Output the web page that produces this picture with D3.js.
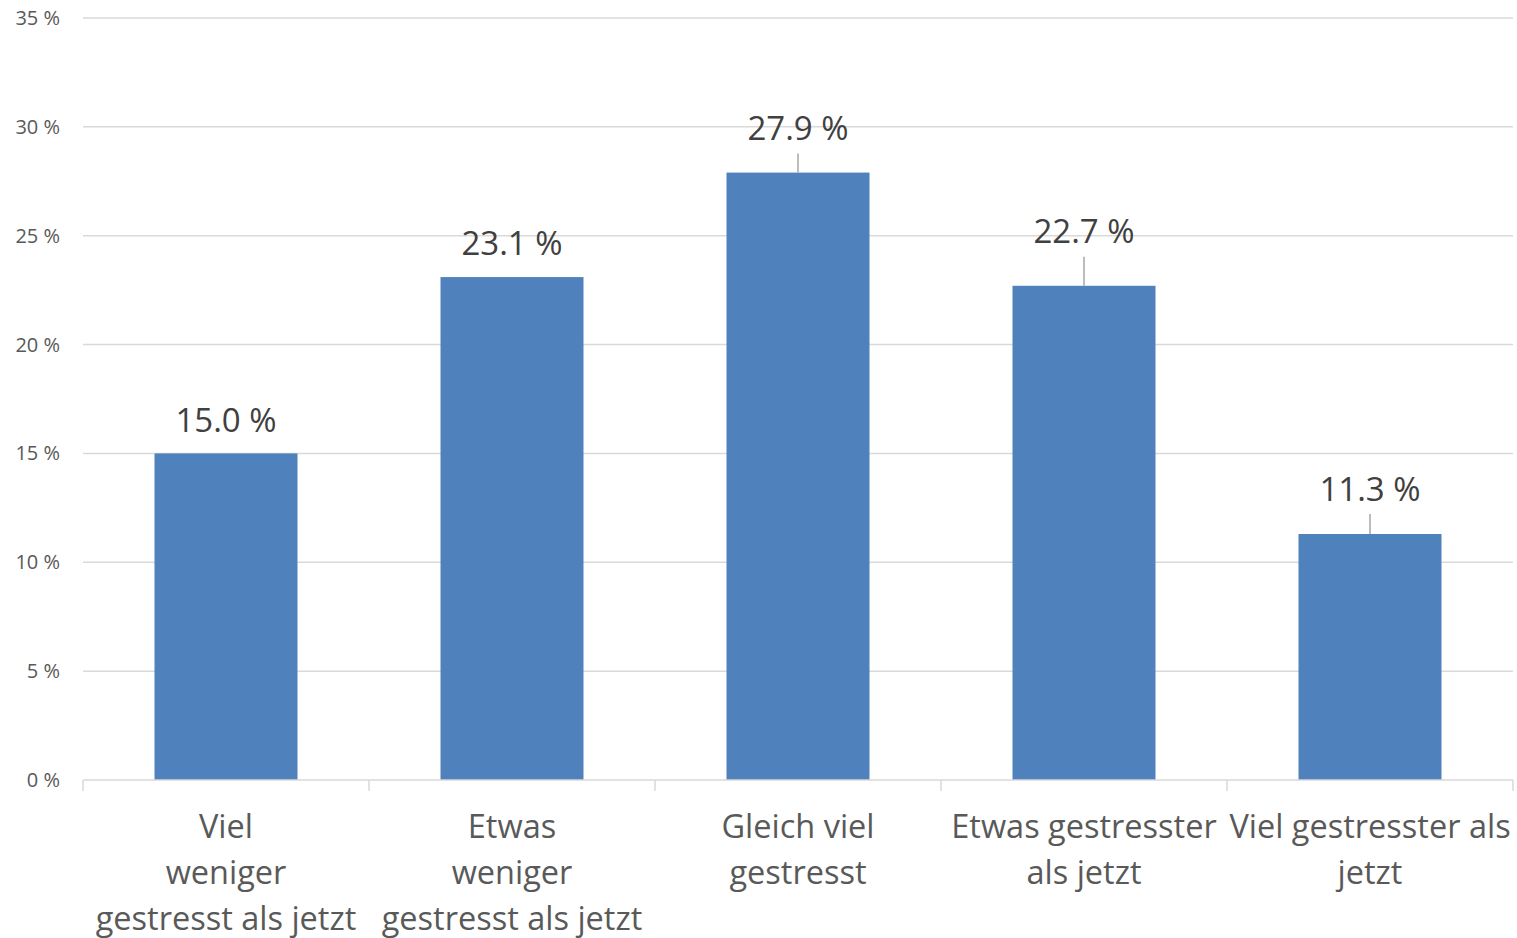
<!DOCTYPE html>
<html>
<head>
<meta charset="utf-8">
<script src="https://cdn.jsdelivr.net/npm/d3@7"></script>
<style>
  body { margin: 0; background: #fff; }
  svg { font-family: "Open Sans", "Noto Sans", sans-serif; }
</style>
</head>
<body>
<div id="chart"></div>
<script>
var width = 1517,
  height = 938;

// data
var categories = [
  "Viel weniger gestresst als jetzt",
  "Etwas weniger gestresst als jetzt",
  "Gleich viel gestresst",
  "Etwas gestresster als jetzt",
  "Viel gestresster als jetzt"
];
var categoryLines = [
  ["Viel", "weniger", "gestresst als jetzt"],
  ["Etwas", "weniger", "gestresst als jetzt"],
  ["Gleich viel", "gestresst"],
  ["Etwas gestresster", "als jetzt"],
  ["Viel gestresster als", "jetzt"]
];
var values = [15.0, 23.1, 27.9, 22.7, 11.3];
var yTicks = [0, 5, 10, 15, 20, 25, 30, 35];

// label distance above bar top (px), leader line drawn when far away
var labelGap = [33, 34, 44, 54, 45];

var margin = {top: 18, right: 4, bottom: 158, left: 83};

var svg = d3.select("#chart").append("svg")
  .attr("width", width)
  .attr("height", height);

var x = d3.scaleBand()
  .domain(categories)
  .range([margin.left, width - margin.right])
  .paddingInner(0.5)
  .paddingOuter(0.25);

var y = d3.scaleLinear()
  .domain([0, 35])
  .range([height - margin.bottom, margin.top]);

// gridlines
svg.append("g")
  .selectAll("line")
  .data(yTicks.filter(function(d) { return d > 0; }))
  .enter().append("line")
  .attr("x1", margin.left)
  .attr("x2", width - margin.right)
  .attr("y1", function(d) { return y(d); })
  .attr("y2", function(d) { return y(d); })
  .attr("stroke", "#d9d9d9")
  .attr("stroke-width", 1.5);

// y tick labels
svg.append("g")
  .selectAll("text")
  .data(yTicks)
  .enter().append("text")
  .attr("x", 60)
  .attr("y", function(d) { return y(d); })
  .attr("dy", "0.35em")
  .attr("text-anchor", "end")
  .attr("fill", "#595959")
  .style("font-size", "20px")
  .text(function(d) { return d + " %"; });

// bars
svg.append("g")
  .selectAll("rect")
  .data(values)
  .enter().append("rect")
  .attr("x", function(d, i) { return x(categories[i]); })
  .attr("y", function(d) { return y(d); })
  .attr("width", x.bandwidth())
  .attr("height", function(d) { return y(0) - y(d); })
  .attr("fill", "#4f81bd");

// x axis line and category ticks
var bottom = y(0);
svg.append("line")
  .attr("x1", margin.left)
  .attr("x2", width - margin.right)
  .attr("y1", bottom)
  .attr("y2", bottom)
  .attr("stroke", "#d9d9d9")
  .attr("stroke-width", 1.5);

var tickXs = categories.map(function(c) { return x(c) - x.bandwidth() / 2; });
tickXs.push(width - margin.right);
svg.append("g")
  .selectAll("line")
  .data(tickXs)
  .enter().append("line")
  .attr("x1", function(d) { return d; })
  .attr("x2", function(d) { return d; })
  .attr("y1", bottom)
  .attr("y2", bottom + 11)
  .attr("stroke", "#d9d9d9")
  .attr("stroke-width", 1.5);

// category labels
var catLabels = svg.append("g")
  .selectAll("text")
  .data(categories)
  .enter().append("text")
  .attr("text-anchor", "middle")
  .attr("fill", "#595959")
  .style("font-size", "32.5px")
  .attr("transform", function(d) {
    return "translate(" + (x(d) + x.bandwidth() / 2) + "," + (bottom + 58) + ")";
  });
catLabels.selectAll("tspan")
  .data(function(d, i) { return categoryLines[i]; })
  .enter().append("tspan")
  .attr("x", 0)
  .attr("dy", function(d, i) { return i === 0 ? 0 : 46; })
  .text(function(d) { return d; });

// data labels with leader lines
var labels = svg.append("g");
values.forEach(function(v, i) {
  var cx = x(categories[i]) + x.bandwidth() / 2;
  var top = y(v);
  var ly = top - labelGap[i];
  if (labelGap[i] > 40) {
    labels.append("line")
      .attr("x1", cx).attr("x2", cx)
      .attr("y1", ly + 25).attr("y2", top)
      .attr("stroke", "#a6a6a6")
      .attr("stroke-width", 1.5);
  }
  labels.append("text")
    .attr("x", cx)
    .attr("y", ly)
    .attr("dy", "0.35em")
    .attr("text-anchor", "middle")
    .attr("fill", "#404040")
    .style("font-size", "33px")
    .text(v.toFixed(1) + " %");
});
</script>
</body>
</html>
